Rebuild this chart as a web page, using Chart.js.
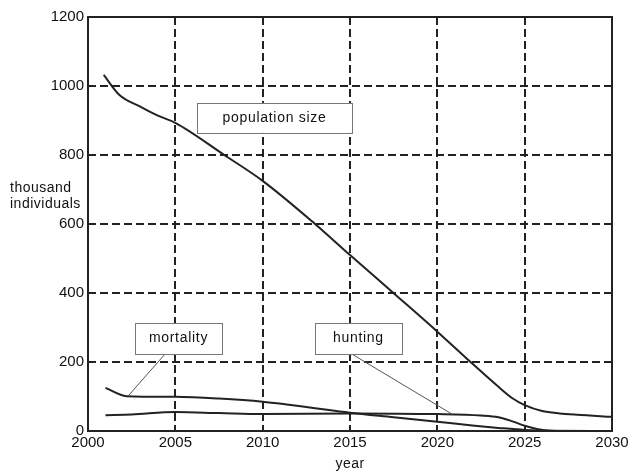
<!DOCTYPE html>
<html>
<head>
<meta charset="utf-8">
<script src="https://cdn.jsdelivr.net/npm/chart.js@4/dist/chart.umd.min.js"></script>
<style>
  html, body { margin: 0; padding: 0; background: #fff; }
  #wrap { width: 632px; height: 473px; }
</style>
</head>
<body>
<div id="wrap"><canvas id="chart"></canvas></div>
<script>
const yTicks = [0, 200, 400, 600, 800, 1000, 1200];
const xTicks = [2000, 2005, 2010, 2015, 2020, 2025, 2030];

const popYears = [2000.9, 2001.8, 2003, 2004, 2005, 2007.8, 2010, 2013, 2015, 2017.6, 2020, 2021.9, 2023.5, 2024.3, 2025, 2026, 2027, 2028, 2030];
const popValues = [1032, 974, 940, 914, 893, 800, 725, 600, 510, 395, 288, 200, 128, 95, 75, 58, 51, 47, 41];

const mortYears = [2001, 2002.2, 2005, 2007.5, 2010, 2011.5, 2013, 2015, 2017.5, 2020, 2022, 2023.5, 2025, 2026.5, 2030];
const mortValues = [125, 101, 99, 94, 85, 76, 66, 53, 40, 27, 16, 9, 3, 0.5, 0];

const huntYears = [2001, 2002.5, 2005, 2007.5, 2010, 2015, 2020, 2022.5, 2023.5, 2024.3, 2025, 2025.7, 2026.5, 2028, 2030];
const huntValues = [46, 48, 55, 52, 49, 51, 49, 45, 40, 28, 15, 6, 1, 0, 0];

// callout boxes in data units: [x1, x2, y1, y2], leader [fromX, fromY, toX, toY]
const callouts = [
  { text: 'population size', box: [2006.24, 2015.11, 864, 951], leader: null },
  { text: 'mortality', box: [2002.69, 2007.67, 223, 313], leader: [2004.41, 223, 2002.29, 101] },
  { text: 'hunting', box: [2012.99, 2017.97, 223, 313], leader: [2015.11, 223, 2020.84, 49] }
];

const INK = '#222';
const TEXT = '#111';
const FONT = '"Liberation Sans", Arial, sans-serif';

function pts(xs, ys) {
  return xs.map((x, i) => ({ x: x, y: ys[i] }));
}

const extras = {
  id: 'extras',
  afterDatasetsDraw(chart) {
    const { ctx, chartArea: a, scales: { x, y } } = chart;
    ctx.save();
    // frame
    ctx.strokeStyle = INK;
    ctx.lineWidth = 2;
    ctx.setLineDash([]);
    ctx.strokeRect(a.left, a.top, a.right - a.left, a.bottom - a.top);

    // callouts
    callouts.forEach(c => {
      if (c.leader) {
        ctx.beginPath();
        ctx.strokeStyle = '#555';
        ctx.lineWidth = 1;
        ctx.moveTo(x.getPixelForValue(c.leader[0]), y.getPixelForValue(c.leader[1]));
        ctx.lineTo(x.getPixelForValue(c.leader[2]), y.getPixelForValue(c.leader[3]));
        ctx.stroke();
      }
      const x1 = x.getPixelForValue(c.box[0]), x2 = x.getPixelForValue(c.box[1]);
      const y1 = y.getPixelForValue(c.box[3]), y2 = y.getPixelForValue(c.box[2]);
      ctx.fillStyle = '#fff';
      ctx.fillRect(x1, y1, x2 - x1, y2 - y1);
      ctx.strokeStyle = '#777';
      ctx.lineWidth = 1;
      ctx.strokeRect(Math.round(x1) + 0.5, Math.round(y1) + 0.5, Math.round(x2 - x1), Math.round(y2 - y1));
      ctx.fillStyle = TEXT;
      ctx.font = '14px ' + FONT;
      ctx.letterSpacing = '0.7px';
      ctx.textAlign = 'center';
      ctx.textBaseline = 'middle';
      ctx.fillText(c.text, (x1 + x2) / 2, (y1 + y2) / 2);
    });

    // axis titles
    ctx.fillStyle = TEXT;
    ctx.font = '14px ' + FONT;
    ctx.letterSpacing = '0.5px';
    ctx.textAlign = 'left';
    ctx.textBaseline = 'middle';
    ctx.fillText('thousand', 10, 188);
    ctx.fillText('individuals', 10, 204);
    ctx.textAlign = 'center';
    ctx.fillText('year', (a.left + a.right) / 2, 464);
    ctx.restore();
  }
};

const lineStyle = {
  borderColor: INK,
  borderWidth: 2,
  pointRadius: 0,
  fill: false,
  cubicInterpolationMode: 'monotone'
};

const tickFont = { size: 15, family: FONT };

new Chart(document.getElementById('chart'), {
  type: 'line',
  data: {
    datasets: [
      { label: 'population size', data: pts(popYears, popValues), ...lineStyle },
      { label: 'mortality', data: pts(mortYears, mortValues), ...lineStyle },
      { label: 'hunting', data: pts(huntYears, huntValues), ...lineStyle }
    ]
  },
  options: {
    responsive: true,
    maintainAspectRatio: false,
    animation: false,
    layout: { padding: { top: 17, right: 20, left: 0, bottom: 0 } },
    plugins: { legend: { display: false }, tooltip: { enabled: false } },
    scales: {
      x: {
        type: 'linear',
        min: 2000,
        max: 2030,
        afterBuildTicks(scale) { scale.ticks = xTicks.map(v => ({ value: v })); },
        afterFit(scale) { scale.height = 42; },
        ticks: { color: TEXT, font: tickFont, padding: 3, maxRotation: 0, callback: v => String(v) },
        grid: { color: INK, lineWidth: 2, drawTicks: false },
        border: { display: false, dash: [8, 4] }
      },
      y: {
        min: 0,
        max: 1200,
        afterBuildTicks(scale) { scale.ticks = yTicks.map(v => ({ value: v })); },
        afterFit(scale) { scale.width = 88; },
        ticks: { color: TEXT, font: tickFont, padding: 4, callback: v => String(v) },
        grid: { color: INK, lineWidth: 2, drawTicks: false },
        border: { display: false, dash: [8, 4] }
      }
    }
  },
  plugins: [extras]
});
</script>
</body>
</html>
